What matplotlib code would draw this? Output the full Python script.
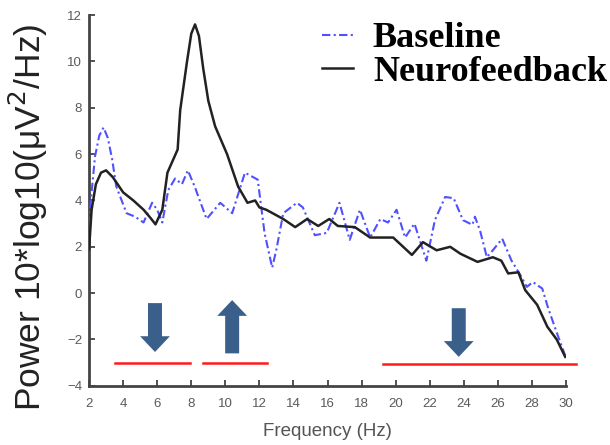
import matplotlib
matplotlib.use("Agg")
import matplotlib.pyplot as plt

# ---- data ----
nf_freq = [2.0, 2.15, 2.4, 2.7, 3.0, 3.4, 4.0, 4.6, 5.2, 5.6, 5.9, 6.3, 6.6, 7.2, 7.35, 7.75, 8.0, 8.22,
           8.45, 8.7, 9.0, 9.4, 10.1, 10.75, 11.3, 11.75, 12.0, 12.4, 13.4, 14.1, 14.8, 15.45, 16.1,
           16.6, 17.6, 18.5, 19.85, 20.95, 21.6, 22.4, 23.2, 23.8, 24.8, 25.7, 26.2, 26.6, 27.2,
           27.6, 28.3, 28.9, 29.45, 29.95]
nf_power = [1.9, 3.6, 4.7, 5.2, 5.3, 5.0, 4.35, 4.0, 3.6, 3.25, 2.97, 3.6, 5.2, 6.2, 7.9, 10.0, 11.2, 11.6,
            11.1, 9.7, 8.3, 7.2, 6.0, 4.6, 3.9, 4.0, 3.7, 3.6, 3.2, 2.85, 3.2, 2.9, 3.2,
            2.9, 2.85, 2.4, 2.4, 1.65, 2.2, 1.85, 2.0, 1.7, 1.35, 1.55, 1.4, 0.85, 0.9,
            0.13, -0.5, -1.45, -2.0, -2.75]

bl_freq = [2.0, 2.05, 2.35, 2.6, 2.85, 3.1, 3.35, 3.6, 4.2, 4.7, 5.2, 5.7, 6.0, 6.3, 6.65, 7.05, 7.45, 7.8,
           8.2, 8.9, 9.7, 10.4, 11.15, 11.9, 12.3, 12.75, 13.0, 13.4, 14.2, 14.55, 15.25, 15.95,
           16.7, 17.3, 17.9, 18.5, 19.1, 19.55, 20.05, 20.55, 21.1, 21.8, 22.3, 22.9, 23.4,
           23.95, 24.5, 24.65, 24.95, 25.35, 25.7, 26.25, 26.8, 27.3, 27.7, 28.05, 28.6, 28.95,
           29.45, 29.95]
bl_power = [2.2, 3.6, 5.9, 6.8, 7.15, 6.7, 5.8, 4.6, 3.45, 3.3, 3.05, 3.9, 3.6, 3.05, 4.45, 4.95, 4.7, 5.3,
            4.6, 3.2, 3.9, 3.45, 5.2, 4.9, 2.6, 1.1, 1.9, 3.45, 3.9, 3.7, 2.5, 2.6,
            3.9, 2.3, 3.6, 2.4, 3.2, 3.05, 3.6, 2.4, 3.0, 1.4, 3.15, 4.15, 4.1,
            3.15, 2.95, 3.3, 2.7, 1.55, 1.85, 2.35, 1.4, 0.8, 0.27, 0.48, 0.2, -0.65,
            -1.7, -2.7]

# frequency bands (red bars) and change arrows
band_start = [3.53, 8.69, 19.25]
band_end = [7.93, 12.45, 30.6]
band_level = [-3.0, -3.0, -3.05]

arrow_x = [5.87, 10.4, 23.7]
arrow_tail = [-0.43, -2.6, -0.65]
arrow_tip = [-2.54, -0.3, -2.75]

x_ticks = list(range(2, 31, 2))
y_ticks = list(range(-4, 13, 2))
series_labels = ["Baseline", "Neurofeedback"]

# ---- figure ----
fig = plt.figure(figsize=(6.10, 4.45), dpi=100)
ax = fig.add_axes([0.146, 0.133, 0.782, 0.833])

ax.plot(bl_freq, bl_power, color="#5050ff", lw=1.5, ls="-.", dashes=(4, 1.6, 1, 1.6),
        label=series_labels[0], zorder=3)
ax.plot(nf_freq, nf_power, color="#222222", lw=1.8, ls="-", label=series_labels[1], zorder=4)

for s, e, lv in zip(band_start, band_end, band_level):
    ax.plot([s, e], [lv, lv], color="#ff1a1a", lw=1.8, clip_on=False, zorder=2)

arrow_color = "#3a5f8a"
for x, t0, t1 in zip(arrow_x, arrow_tail, arrow_tip):
    ax.arrow(x, t0, 0, t1 - t0, width=0.82, head_width=1.75, head_length=0.68,
             length_includes_head=True, color=arrow_color, ec="none", zorder=5)

ax.set_xlim(2, 30)
ax.set_ylim(-4, 12)
ax.set_xticks(x_ticks)
ax.set_yticks(y_ticks)
for sp in ["top", "right"]:
    ax.spines[sp].set_visible(False)
for sp in ["left", "bottom"]:
    ax.spines[sp].set_color("#444444")
    ax.spines[sp].set_linewidth(2.0)
ax.tick_params(direction="in", length=4, width=1.3, color="#444444",
               labelsize=9.5, labelcolor="#5a5a5a")
ax.tick_params(axis="x", pad=9)
ax.tick_params(axis="y", pad=5)
for lab in ax.get_xticklabels() + ax.get_yticklabels():
    lab.set_family("Liberation Sans")

ax.set_xlabel("Frequency (Hz)", family="Liberation Sans", fontsize=13.5, color="#555555", labelpad=9)
fig.text(0.047, 0.511, "Power 10*log10(\u03bcV$^2$/Hz)", rotation=90, va="center", ha="center",
         family="Liberation Sans", fontsize=25.5, color="#222222")

leg = fig.legend(handles=ax.get_lines()[:2], labels=series_labels,
                 loc="upper left", bbox_to_anchor=(322 / 610, 1 - 22 / 445), frameon=False,
                 prop={"family": "Liberation Serif", "weight": "bold", "size": 26},
                 handlelength=0.86, labelspacing=0.0, handletextpad=0.55, borderpad=0,
                 borderaxespad=0)

fig.savefig("out.png", dpi=100)
